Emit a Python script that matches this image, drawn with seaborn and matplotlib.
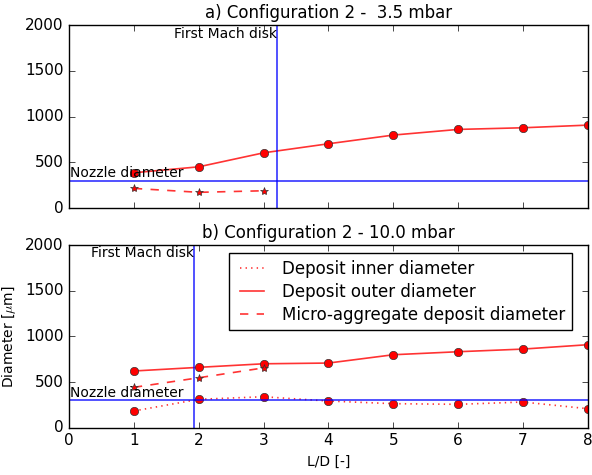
import matplotlib
matplotlib.use("Agg")
import matplotlib.pyplot as plt
import seaborn as sns
import pandas as pd

# Data
ld = [1, 2, 3, 4, 5, 6, 7, 8]
ld_micro = [1, 2, 3]

outer_a = [386, 451, 604, 703, 798, 860, 878, 907]
micro_a = [215, 172, 189]
mach_a = 3.2

inner_b = [183, 311, 339, 292, 263, 256, 281, 208]
outer_b = [621, 661, 700, 708, 799, 832, 861, 909]
micro_b = [442, 547, 655]
mach_b = 1.93

nozzle = 300

titles = ["a) Configuration 2 -  3.5 mbar", "b) Configuration 2 - 10.0 mbar"]

plt.style.use("classic")
fig = plt.figure(figsize=(5.92, 4.75), dpi=100, facecolor="white")
ax1 = fig.add_axes([0.1166, 0.562, 0.8764, 0.385])
ax2 = fig.add_axes([0.1166, 0.0996, 0.8764, 0.3844])


def draw_series(ax, x, y, ls, marker, ms, label):
    df = pd.DataFrame({"x": x, "y": y})
    sns.lineplot(data=df, x="x", y="y", ax=ax, color="red", linestyle=ls,
                 linewidth=1.2, alpha=0.8, label=label, legend=False)
    ax.plot(df["x"], df["y"], linestyle="none", marker=marker, markersize=ms,
            markerfacecolor="red", markeredgecolor="#333333", markeredgewidth=0.5)


# top panel
draw_series(ax1, ld, outer_a, "-", "o", 6, "Deposit outer diameter")
draw_series(ax1, ld_micro, micro_a, "--", "*", 6, "Micro-aggregate deposit diameter")

# bottom panel
draw_series(ax2, ld, inner_b, ":", "o", 6, "Deposit inner diameter")
draw_series(ax2, ld, outer_b, "-", "o", 6, "Deposit outer diameter")
draw_series(ax2, ld_micro, micro_b, "--", "*", 6, "Micro-aggregate deposit diameter")

for ax, mach, title in zip([ax1, ax2], [mach_a, mach_b], titles):
    ax.axhline(nozzle, color="blue", linewidth=1.2, alpha=0.8)
    ax.axvline(mach, color="blue", linewidth=1.2, alpha=0.8)
    ax.text(0.02, nozzle + 35, "Nozzle diameter", fontsize=10, ha="left", va="baseline")
    ax.text(mach, 1985, "First Mach disk", fontsize=10, ha="right", va="top")
    ax.set_xlim(0, 8)
    ax.set_ylim(0, 2000)
    ax.set_yticks([0, 500, 1000, 1500, 2000])
    ax.set_xticks(range(0, 9))
    ax.set_title(title, fontsize=12)
    ax.set_xlabel("")
    ax.set_ylabel("")
    ax.tick_params(labelsize=11)

ax1.set_xticklabels([])
ax2.set_xlabel("L/D [-]", fontsize=10)
ax2.set_ylabel(r"Diameter [$\mu$m]", fontsize=10)
leg = ax2.legend(loc="upper right", bbox_to_anchor=(0.969, 0.956), borderaxespad=0,
                 fontsize=12, handlelength=2.0, labelspacing=0.3)
leg.get_frame().set_linewidth(1.0)

fig.savefig("out.png", dpi=100, facecolor="white")
